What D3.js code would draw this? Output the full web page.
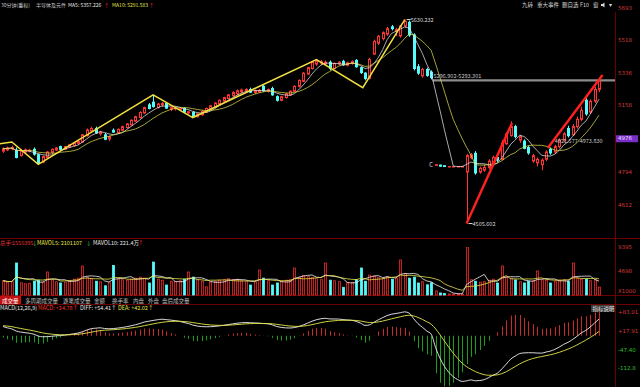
<!DOCTYPE html>
<html>
<head>
<meta charset="utf-8">
<script src="https://cdn.jsdelivr.net/npm/d3@7"></script>
<style>
  body { margin: 0; background: #000; }
  svg { display: block; font-family: "Noto Sans CJK SC", "Noto Sans", sans-serif; }
</style>
</head>
<body>
<div id="chart"></div>
<script>
// 30 minute bars: [open, high, low, close]
const candles = [
  [4905,4925,4895,4918],[4912,4930,4905,4922],[4918,4935,4910,4925],[4910,4925,4865,4870],
  [4880,4915,4875,4905],[4900,4920,4895,4912],[4905,4918,4898,4910],[4915,4925,4880,4888],
  [4885,4890,4832,4840],[4845,4880,4838,4875],[4870,4905,4865,4900],[4898,4920,4890,4915],
  [4910,4928,4905,4922],[4930,4935,4912,4915],[4915,4935,4910,4930],[4928,4945,4922,4940],
  [4935,4955,4930,4950],[4948,4965,4940,4958],[4955,5000,4950,4995],[4990,5030,4985,5022],
  [5015,5040,5005,5030],[5030,5040,5000,5005],[5000,5018,4990,5010],[4995,5005,4965,4970],
  [4972,4990,4960,4985],[5020,5030,5005,5010],[5005,5030,5000,5025],[5020,5045,5015,5040],
  [5035,5060,5030,5055],[5050,5080,5045,5075],[5070,5100,5065,5095],[5090,5125,5085,5118],
  [5115,5150,5110,5145],[5160,5170,5135,5140],[5175,5215,5145,5150],[5145,5170,5140,5165],
  [5160,5175,5150,5168],[5168,5175,5138,5142],[5135,5150,5125,5145],[5138,5150,5128,5142],
  [5135,5148,5125,5140],[5140,5145,5115,5120],[5115,5128,5108,5122],[5118,5125,5090,5095],
  [5095,5115,5090,5110],[5105,5130,5100,5125],[5120,5145,5115,5140],[5135,5160,5130,5155],
  [5150,5175,5145,5170],[5165,5190,5160,5185],[5180,5205,5172,5200],[5195,5220,5190,5215],
  [5210,5235,5205,5228],[5222,5245,5215,5238],[5232,5250,5225,5242],[5238,5252,5230,5245],
  [5245,5255,5225,5230],[5228,5245,5220,5238],[5232,5248,5226,5240],[5262,5270,5232,5238],
  [5235,5250,5228,5245],[5250,5260,5210,5215],[5205,5212,5178,5185],[5185,5210,5180,5205],
  [5200,5225,5195,5220],[5215,5240,5210,5235],[5235,5268,5230,5262],[5262,5300,5255,5295],
  [5290,5340,5285,5335],[5330,5370,5325,5365],[5360,5400,5355,5395],[5385,5410,5375,5400],
  [5390,5408,5380,5398],[5385,5405,5378,5395],[5395,5405,5350,5360],[5360,5395,5355,5388],
  [5385,5402,5378,5395],[5400,5408,5375,5380],[5378,5398,5372,5392],[5388,5405,5382,5398],
  [5405,5412,5365,5370],[5365,5370,5330,5338],[5335,5340,5295,5305],[5305,5420,5300,5410],
  [5440,5520,5435,5510],[5500,5545,5490,5538],[5525,5565,5515,5558],[5550,5590,5540,5580],
  [5590,5600,5570,5580],[5565,5585,5540,5575],[5540,5600,5530,5595],[5595,5630.232,5585,5620],
  [5615,5625,5535,5545],[5545,5555,5350,5360],[5370,5385,5325,5335],[5320,5365,5310,5355],
  [5355,5365,5315,5322],[5340,5350,5300,5310],[4826,4834,4824,4830],[4828,4830,4820,4822],
  [4824,4826,4818,4820],[4820,4821,4819,4820],[4820,4821,4819,4820],[4820,4821,4819,4820],
  [4820,4821,4819,4820],[4790,4890,4505.602,4880],[4870,4895,4860,4885],[4893,4905,4775,4785],
  [4790,4820,4780,4810],[4800,4830,4790,4815],[4815,4860,4805,4850],[4840,4880,4830,4870],
  [4870,4885,4845,4855],[4860,4965,4855,4950],[4945,5010,4940,5000],[4990,5070,4985,5040],
  [5040,5050,4975,4985],[4965,4995,4950,4985],[4960,4970,4915,4920],[4925,4935,4885,4895],
  [4850,4890,4840,4880],[4840,4870,4820,4860],[4830,4865,4800,4855],[4860,4910,4850,4900],
  [4915,4925,4885,4895],[4900,4940,4890,4930],[4930,4975,4920,4965],[4965,5010,4955,5000],
  [5030,5045,4980,4990],[4995,5055,4990,5040],[5040,5095,5030,5080],[5080,5150,5070,5130],
  [5185,5200,5100,5110],[5120,5190,5110,5180],[5180,5260,5170,5245],[5245,5310,5230,5290]
];

// volume per bar, thousands of hands (axis shows X1000)
const volumes = [
  2800,2500,2600,6263,2400,2200,2300,2700,2900,2500,4500,3000,2600,2350,2500,2800,
  3100,3300,5676,3500,3200,2700,2600,1800,2400,5800,3200,3000,2900,3100,3300,3500,
  3300,2350,6450,3100,2900,1950,2700,2600,2800,3100,4500,3500,3000,2700,1600,2500,
  2700,2900,3000,3200,3000,3100,2800,2600,1950,2600,4900,3300,2800,1950,2350,2700,
  2900,3000,5285,3500,3800,3600,3400,3200,3000,6263,2900,2800,2600,1500,2400,2500,
  3000,5285,2700,3900,3700,3400,3300,3600,3100,3300,6850,4200,3300,3500,2350,2600,
  2000,2400,800,400,300,200,200,200,200,9395,3000,2700,2500,2600,2900,3100,
  2350,5676,3500,3300,2950,2600,2350,2700,2800,4700,3000,2900,2350,2700,2900,3000,
  2700,6263,3300,3100,3100,2800,3000,1550
];

const priceTicks = [5693, 5518, 5336, 5158, 4976, 4794, 4612];
const cursorPrice = 4976;
const volTicks = [9395, 4698];
const macdTicks = [83.01, 17.91, -47.40, -112.8];
const macdTickLabels = ["+83.01", "+17.91", "-47.40", "-112.8"];
const macdStart = {diff: 38, dea: 36};   // values at the left edge

const maPeriods = [5, 10];
const maColors = ["#ececec", "#e2e24e"];

// hand drawn lines on the chart, [bar index, price]
const yellowTrend = [[-0.7,4945],[2,4955],[8,4832],[34,5215],[43,5090],[71,5410],[81.5,5255],[91,5630.232]];
const redTrends = [
  [[105,4505.602],[115.3,5060]],
  [[123.4,4922],[135.8,5325]]
];
const levelLine = {start: 97.3, price: 5295, label: "5296.902-5293.301"};
const rangeLabel = {start: 125, price: 4958, label: "4921.577-4973.830"};
const highMark = {i: 91, price: 5630.232};
const lowMark = {i: 105, price: 4505.602};

const titleItems = [
  ["30分钟(重权)", "#c8c8c8"], ["半导体及元件", "#c8c8c8"],
  ["MA5: 5357.226", "#e8e8e8"], ["↑", "#ff3030"],
  ["MA10: 5291.583", "#e6e64a"], ["↑", "#ff3030"]
];
const menuItems = ["九转", "重大事件", "删自选", "F10", "窗"];
const volHeader = [
  ["总手: ", "#e03030"], ["1550395", "#e03030"], ["↓", "#3cd23c"],
  ["MAVOL5: 2101107", "#e6e64a"], ["↓", "#3cd23c"],
  ["MAVOL10: 221.4万", "#e8e8e8"], ["↑", "#ff3030"]
];
const tabs = ["成交量", "多周期成交量", "逐笔成交量", "金额", "换手率", "内盘", "外盘", "盘后成交量"];
const macdHeader = [
  ["MACD(12,26,9)", "#e8e8e8"], ["MACD: +24.78↑", "#ff3030"],
  ["DIFF: +54.41↑", "#e8e8e8"], ["DEA: +42.02↑", "#e6e64a"]
];

const W = 640, H = 387;
const RED = "#ff3434", CYAN = "#54fcfc", GRID = "#6a0000";
const axisX = 615;

const svg = d3.select("#chart").append("svg").attr("width", W).attr("height", H);
svg.append("rect").attr("width", W).attr("height", H).attr("fill", "#000");

const defs = svg.append("defs");
defs.append("clipPath").attr("id", "mainClip").append("rect").attr("x", 0).attr("y", 10).attr("width", axisX).attr("height", 228);
defs.append("clipPath").attr("id", "volClip").append("rect").attr("x", 0).attr("y", 247).attr("width", axisX).attr("height", 49);
defs.append("clipPath").attr("id", "macdClip").append("rect").attr("x", 0).attr("y", 311).attr("width", axisX).attr("height", 76);

const x = d3.scaleLinear().domain([0, candles.length - 1]).range([3, 599]);
const yPrice = d3.scaleLinear().domain([4426, 5738]).range([238, 0]);
const yVol = d3.scaleLinear().domain([0, 9395]).range([295, 247]);
const yMacd = d3.scaleLinear().domain([-112.8, 83.01]).range([368, 312]);
const px = i => Math.round(x(i)) + 0.5;
const isUp = d => d[3] >= d[0];

// frame lines
[238.5, 295.5, 304.5].forEach(y => {
  svg.append("line").attr("x1", 0).attr("x2", W).attr("y1", y).attr("y2", y).attr("stroke", GRID);
});
svg.append("line").attr("x1", axisX + 0.5).attr("x2", axisX + 0.5).attr("y1", 12).attr("y2", H).attr("stroke", GRID);

// ---------- main panel ----------
const main = svg.append("g").attr("clip-path", "url(#mainClip)");

const closes = candles.map(d => d[3]);
const movingAvg = (arr, n) => arr.map((d, i) => d3.mean(arr.slice(Math.max(0, i - n + 1), i + 1)));

const priceLine = d3.line().x((d, i) => x(i)).y(d => yPrice(d));

// level line at ~5295
main.append("line")
  .attr("x1", x(levelLine.start)).attr("x2", axisX)
  .attr("y1", yPrice(levelLine.price)).attr("y2", yPrice(levelLine.price))
  .attr("stroke", "#8c8c8c").attr("stroke-width", 2.2);

const cg = main.selectAll(".candle").data(candles).join("g").attr("class", "candle");
cg.append("line")
  .attr("x1", (d, i) => px(i)).attr("x2", (d, i) => px(i))
  .attr("y1", d => yPrice(d[1])).attr("y2", d => yPrice(d[2]))
  .attr("stroke", d => isUp(d) ? RED : CYAN);
cg.append("rect")
  .attr("x", (d, i) => px(i) - 1)
  .attr("width", 2)
  .attr("y", d => yPrice(Math.max(d[0], d[3])))
  .attr("height", d => Math.max(0.5, Math.abs(yPrice(d[0]) - yPrice(d[3]))))
  .attr("fill", d => isUp(d) ? "#000" : CYAN)
  .attr("stroke", d => isUp(d) ? RED : CYAN);

maPeriods.forEach((n, k) => {
  main.append("path")
    .datum(movingAvg(closes, n))
    .attr("d", priceLine)
    .attr("fill", "none")
    .attr("stroke", maColors[k])
    .attr("stroke-width", 0.8)
    .attr("opacity", 0.9);
});

// trend lines drawn by the user
const trendLine = d3.line().x(d => x(d[0])).y(d => yPrice(d[1]));
main.append("path").datum(yellowTrend).attr("d", trendLine)
  .attr("fill", "none").attr("stroke", "#f2e040").attr("stroke-width", 1.5);
redTrends.forEach(seg => {
  main.append("path").datum(seg).attr("d", trendLine)
    .attr("fill", "none").attr("stroke", "#ff2020").attr("stroke-width", 2.4);
});

// labels on the main chart
const smallText = (g, tx, ty, str, color, size = 5.5) => g.append("text")
  .attr("x", tx).attr("y", ty).attr("fill", color).attr("font-size", size).text(str);

smallText(svg, x(levelLine.start) + 1, yPrice(levelLine.price) - 2, levelLine.label, "#c8c8c8");
smallText(svg, x(rangeLabel.start), yPrice(rangeLabel.price) + 2, rangeLabel.label, "#c8c8c8");
svg.append("line").attr("x1", x(highMark.i) + 2).attr("x2", x(highMark.i) + 6)
  .attr("y1", yPrice(highMark.price)).attr("y2", yPrice(highMark.price)).attr("stroke", "#ddd");
smallText(svg, x(highMark.i) + 6, yPrice(highMark.price) + 2, d3.format(".3f")(highMark.price), "#dcdcdc");
svg.append("line").attr("x1", x(lowMark.i) + 2).attr("x2", x(lowMark.i) + 6)
  .attr("y1", yPrice(lowMark.price)).attr("y2", yPrice(lowMark.price)).attr("stroke", "#ddd");
smallText(svg, x(lowMark.i) + 6, yPrice(lowMark.price) + 2, d3.format(".3f")(lowMark.price), "#dcdcdc");
smallText(svg, x(97) - 2, yPrice(candles[98][3]) + 2, "C", "#e0e0e0");

// price axis
const pAxis = svg.append("g").attr("transform", `translate(${axisX},0)`)
  .call(d3.axisRight(yPrice).tickValues(priceTicks).tickSize(0).tickPadding(3).tickFormat(d3.format("d")));
pAxis.select(".domain").remove();
pAxis.selectAll("text").attr("fill", "#d03a3a").attr("font-size", 5.5).attr("font-family", "DejaVu Sans");
pAxis.selectAll(".tick").filter(d => d === cursorPrice).insert("rect", "text")
  .attr("x", 1).attr("y", -3.5).attr("width", 22).attr("height", 7).attr("fill", "#7a2ec8");
pAxis.selectAll(".tick").filter(d => d === cursorPrice).select("text").attr("fill", "#e8d8ff");

// title bar
const titleX = [1, 36, 68, 104, 112, 149];
titleItems.forEach((t, k) => smallText(svg, titleX[k], 7, t[0], t[1], 5));
const menuX = [522, 537, 562, 580, 593];
menuItems.forEach((t, k) => smallText(svg, menuX[k], 7, t, "#d8d8d8"));
svg.append("path").attr("d", "M601,4 h1.5 l2,-1.5 v5 l-2,-1.5 h-1.5 z").attr("fill", "#d8d8d8");
smallText(svg, 609, 7, "▾", "#d8d8d8");

// ---------- volume panel ----------
const headX = [0, 12, 32, 37, 86, 93, 138];
volHeader.forEach((t, k) => smallText(svg, headX[k], 245, t[0], t[1]));

const vol = svg.append("g").attr("clip-path", "url(#volClip)");
vol.selectAll("rect").data(volumes).join("rect")
  .attr("x", (d, i) => px(i) - 1)
  .attr("width", 2)
  .attr("y", d => yVol(d))
  .attr("height", d => 295 - yVol(d))
  .attr("fill", (d, i) => isUp(candles[i]) ? "#2a0000" : CYAN)
  .attr("stroke", (d, i) => isUp(candles[i]) ? "#e02c2c" : CYAN)
  .attr("stroke-width", 0.8);

const volLine = d3.line().x((d, i) => x(i)).y(d => yVol(d));
[[5, "#f0f0f0"], [10, "#e6e64a"]].forEach(([n, c]) => {
  vol.append("path").datum(movingAvg(volumes, n)).attr("d", volLine)
    .attr("fill", "none").attr("stroke", c).attr("stroke-width", 0.8);
});

const vAxis = svg.append("g").attr("transform", `translate(${axisX},0)`)
  .call(d3.axisRight(yVol).tickValues(volTicks).tickSize(0).tickPadding(3).tickFormat(d3.format("d")));
vAxis.select(".domain").remove();
vAxis.selectAll("text").attr("fill", "#d03a3a").attr("font-size", 5.5).attr("font-family", "DejaVu Sans");
smallText(svg, axisX + 3, 293, "X1000", "#d03a3a").attr("font-family", "DejaVu Sans");

// tabs
const tabX = [2, 25, 63, 94, 112, 133, 148, 162];
svg.append("rect").attr("x", 0).attr("y", 296).attr("width", 21).attr("height", 8).attr("fill", "#c01010");
tabs.forEach((t, k) => smallText(svg, tabX[k], 302.5, t, k === 0 ? "#ffffff" : "#bdbdbd"));

// ---------- MACD panel ----------
const macdX = [0, 38, 80, 118];
macdHeader.forEach((t, k) => smallText(svg, macdX[k], 310, t[0], t[1]));

svg.append("rect").attr("x", 591).attr("y", 305).attr("width", 23).attr("height", 7).attr("fill", "#3a3a3a");
smallText(svg, 592.5, 310.5, "指标说明", "#e0e0e0");

let e12 = closes[0] + macdStart.diff, e26 = closes[0], dea = macdStart.dea;
const diffs = [], deas = [], hist = [];
closes.forEach(c => {
  e12 += (c - e12) * 2 / 13;
  e26 += (c - e26) * 2 / 27;
  const df = e12 - e26;
  dea += (df - dea) * 2 / 10;
  diffs.push(df);
  deas.push(dea);
  hist.push(2 * (df - dea));
});

const macd = svg.append("g").attr("clip-path", "url(#macdClip)");
macd.selectAll("line").data(hist).join("line")
  .attr("x1", (d, i) => px(i)).attr("x2", (d, i) => px(i))
  .attr("y1", yMacd(0)).attr("y2", d => yMacd(d))
  .attr("stroke", d => d >= 0 ? "#e03030" : "#1fb01f")
  .attr("stroke-width", 0.9);

const macdLine = d3.line().x((d, i) => x(i)).y(d => yMacd(d)).curve(d3.curveMonotoneX);
macd.append("path").datum(diffs).attr("d", macdLine)
  .attr("fill", "none").attr("stroke", "#f0f0f0").attr("stroke-width", 0.9);
macd.append("path").datum(deas).attr("d", macdLine)
  .attr("fill", "none").attr("stroke", "#e6e64a").attr("stroke-width", 0.9);

const mAxis = svg.append("g").attr("transform", `translate(${axisX},0)`)
  .call(d3.axisRight(yMacd).tickValues(macdTicks).tickSize(0).tickPadding(3)
    .tickFormat((d, k) => macdTickLabels[k]));
mAxis.select(".domain").remove();
mAxis.selectAll("text").attr("font-size", 5.5).attr("font-family", "DejaVu Sans")
  .attr("fill", d => d >= 0 ? "#d03a3a" : "#2ec02e");
</script>
</body>
</html>
